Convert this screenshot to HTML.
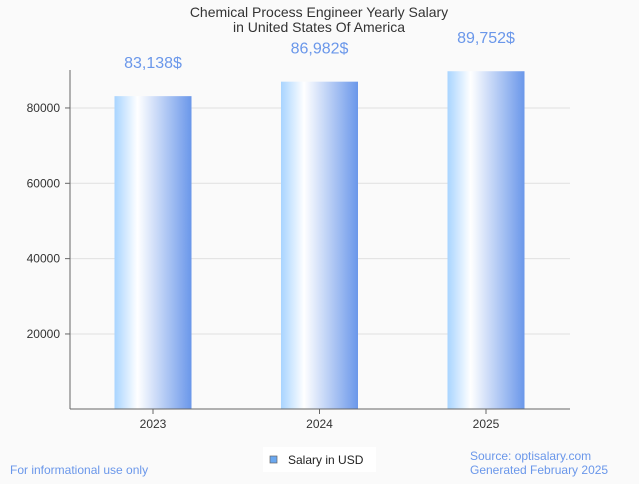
<!DOCTYPE html>
<html><head><meta charset="utf-8"><style>
body{margin:0;background:#fafafa;font-family:"Liberation Sans",Arial,sans-serif}
</style></head><body>
<svg width="639" height="479" xmlns="http://www.w3.org/2000/svg">
<defs><linearGradient id="g" x1="0" x2="1" y1="0" y2="0">
<stop offset="0" stop-color="#a8d4ff"/><stop offset="0.3" stop-color="#ffffff"/><stop offset="1" stop-color="#6a97ea"/></linearGradient></defs>
<rect width="639" height="479" fill="#fafafa"/>
<text x="319" y="17" text-anchor="middle" font-size="14" fill="#333">Chemical Process Engineer Yearly Salary</text>
<text x="319" y="32" text-anchor="middle" font-size="14" fill="#333">in United States Of America</text>
<g id="grid"></g><g id="bars"></g>
<line x1="70" y1="70" x2="70" y2="409" stroke="#666"/>
<line x1="70" y1="409" x2="570" y2="409" stroke="#666"/>
<rect x="263" y="447" width="113" height="25" fill="#fff"/>
<rect x="270" y="456" width="7" height="7" fill="#6aa8f0" stroke="#666" stroke-width="0.7"/>
<text x="288" y="464" font-size="12" fill="#222">Salary in USD</text>
<text x="10" y="474" font-size="12" fill="#6a97ea">For informational use only</text>
<text x="470" y="460" font-size="12" fill="#6a97ea">Source: optisalary.com</text>
<text x="470" y="474" font-size="12" fill="#6a97ea">Generated February 2025</text>
</svg>
<script>
const categories=["2023","2024","2025"];
const salaries=[83138,86982,89752];
const valueLabels=["83,138$","86,982$","89,752$"];
const yTicks=[20000,40000,60000,80000];
const NS="http://www.w3.org/2000/svg";
function y(v){return 409.3-v*226/60000;}
function x(i){return 153+i*166.5;}
function mk(t,a,txt){const e=document.createElementNS(NS,t);for(const k in a)e.setAttribute(k,a[k]);if(txt)e.textContent=txt;return e;}
const grid=document.getElementById('grid'),bars=document.getElementById('bars');
yTicks.forEach(v=>{
 const l=mk('line',{x1:70,x2:570,y1:y(v),y2:y(v),stroke:'#e0e0e0'});
 
 
 grid.appendChild(l);
 const tk=mk('line',{x1:65,x2:70,y1:y(v),y2:y(v),stroke:'#666'});
 
 
 grid.appendChild(tk);
 const t=mk('text',{x:60,y:y(v)+4,'text-anchor':'end','font-size':12,fill:'#333'},String(v));
 
 
 grid.appendChild(t);
});
categories.forEach((c,i)=>{
 const r=mk('rect',{x:x(i)-38.5,y:y(salaries[i]),width:77,height:409-y(salaries[i]),fill:'url(#g)'});
 
 
 bars.appendChild(r);
 const vl=mk('text',{x:x(i),y:y(salaries[i])-28,'text-anchor':'middle','font-size':16,fill:'#6a97ea'},valueLabels[i]);
 
 
 bars.appendChild(vl);
 const tk=mk('line',{x1:x(i),x2:x(i),y1:409,y2:414,stroke:'#666'});
 
 
 bars.appendChild(tk);
 const xl=mk('text',{x:x(i),y:428,'text-anchor':'middle','font-size':12,fill:'#333'},c);
 
 
 bars.appendChild(xl);
});
</script>
</body></html>
